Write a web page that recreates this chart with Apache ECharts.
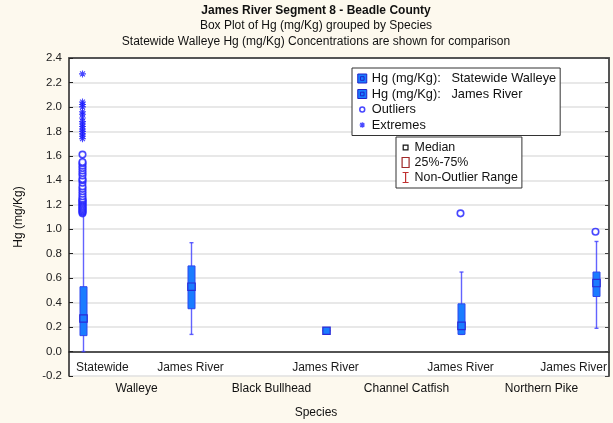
<!DOCTYPE html>
<html>
<head>
<meta charset="utf-8">
<script src="https://cdn.jsdelivr.net/npm/echarts@6/dist/echarts.min.js"></script>
<style>
  html, body { margin: 0; padding: 0; background: #fdf9ee; }
  #chart { width: 613px; height: 423px; }
</style>
</head>
<body>
<div id="chart"></div>
<script>
  'use strict'

  var species = ['Walleye', 'Black Bullhead', 'Channel Catfish', 'Northern Pike'];
  var yTicks = { min: -0.2, max: 2.4, step: 0.2 };

  // statewide walleye box: [min, q1, median, q3, max]
  var statewideBox = [0.00, 0.13, 0.27, 0.53, 1.12];
  // james river boxes, one per species
  var jamesBoxes = [
    [0.14, 0.35, 0.53, 0.70, 0.89],
    [0.165, 0.165, 0.17, 0.175, 0.175],
    [0.14, 0.14, 0.21, 0.39, 0.65],
    [0.19, 0.45, 0.56, 0.65, 0.90]
  ];
  var statewideOutliers = [1.13, 1.14, 1.15, 1.16, 1.17, 1.18, 1.19, 1.20, 1.21, 1.22,
    1.23, 1.24, 1.25, 1.27, 1.29, 1.31, 1.33, 1.35, 1.38, 1.40, 1.41, 1.44, 1.46,
    1.48, 1.50, 1.52, 1.54, 1.55, 1.61];
  var statewideExtremes = [1.74, 1.76, 1.78, 1.80, 1.82, 1.84, 1.86, 1.88, 1.91,
    1.94, 1.96, 2.00, 2.02, 2.04, 2.27];
  // [species index, value]
  var jamesOutliers = [[2, 1.13], [3, 0.98]];

  var nameState = 'Hg (mg/Kg):   Statewide Walleye';
  var nameJames = 'Hg (mg/Kg):   James River';
  var FONT = 'Liberation Sans';

  function slotX(idx, isState) { return idx + (isState ? 0.1 : 0.9); }

  var stateData = [[slotX(0, true)].concat(statewideBox)];
  var jamesData = jamesBoxes.map(function (b, i) { return [slotX(i, false)].concat(b); });
  var outlierData = statewideOutliers.map(function (v) { return [slotX(0, true), v]; })
    .concat(jamesOutliers.map(function (o) { return [slotX(o[0], false), o[1]]; }));
  var extremeData = statewideExtremes.map(function (v) { return [slotX(0, true), v]; });
  var subLabelData = [[slotX(0, true), 'Statewide']].concat(
    species.map(function (s, i) { return [slotX(i, false), 'James River']; }));

  function renderBox(params, api) {
    var x = api.value(0);
    var c = function (v) { return api.coord([x, v]); };
    var pMin = c(api.value(1)), pQ1 = c(api.value(2)), pMed = c(api.value(3));
    var pQ3 = c(api.value(4)), pMax = c(api.value(5));
    var cx = Math.round(pMin[0]) + 0.5;
    var bw = 3.5, mw = 3.7, cap = 2;
    var wStyle = { stroke: '#3c3cff', lineWidth: 1.4, opacity: 0.8 };
    return {
      type: 'group',
      children: [
        { type: 'line', shape: { x1: cx, y1: pMax[1], x2: cx, y2: pMin[1] }, style: wStyle },
        { type: 'line', shape: { x1: cx - cap, y1: pMax[1], x2: cx + cap, y2: pMax[1] }, style: wStyle },
        { type: 'line', shape: { x1: cx - cap, y1: pMin[1], x2: cx + cap, y2: pMin[1] }, style: wStyle },
        { type: 'rect', shape: { x: cx - bw, y: pQ3[1], width: bw * 2, height: Math.max(pQ1[1] - pQ3[1], 1) },
          style: { fill: '#1a7cff', stroke: '#2f47ee', lineWidth: 1 } },
        { type: 'rect', shape: { x: cx - mw, y: pMed[1] - mw, width: mw * 2, height: mw * 2 },
          style: { fill: '#1a7cff', stroke: '#2a2ad8', lineWidth: 1.2 } }
      ]
    };
  }

  var measureCtx = document.createElement('canvas').getContext('2d');
  measureCtx.font = '12px ' + FONT;

  function renderSubLabel(params, api) {
    var txt = subLabelData[params.dataIndex][1];
    var p = api.coord([api.value(0), yTicks.min]);
    var w = measureCtx.measureText(txt).width;
    var cs = params.coordSys;
    var x = Math.min(Math.max(p[0], cs.x + w / 2 + 7), cs.x + cs.width - w / 2 - 2);
    return {
      type: 'text',
      style: { text: txt, x: x, y: p[1] - 8, align: 'center', verticalAlign: 'middle',
        font: '12px ' + FONT, fill: '#1a1a1a' }
    };
  }

  var iconBox = 'path://M0,0H10V10H0Z M3,3H7V7H3Z';
  var iconStar = 'path://M0,4H8 M4,0V8 M1.2,1.2L6.8,6.8 M6.8,1.2L1.2,6.8';
  var iconCircle = 'path://M-1.5,-1.5 M1,4a3,3 0 1,0 6,0a3,3 0 1,0 -6,0 M9.5,9.5';
  var iconSmallStar = 'path://M-1,-1 M1,4H7 M4,1V7 M1.8,1.8L6.2,6.2 M6.2,1.8L1.8,6.2 M9,9';
  var iconMedian = 'path://M-2,-2 M0,0H6V6H0Z M8,8';
  var iconIqr = 'path://M0,0H7V10H0Z';
  var iconRange = 'path://M0,0H6 M3,0V10 M0,10H6';

  var chart = echarts.init(document.getElementById('chart'));

  var option = {
    backgroundColor: '#fdf9ee',
    animation: false,
    textStyle: { fontFamily: FONT },
    graphic: [
      { type: 'text', style: { text: 'James River Segment 8 - Beadle County', x: 316, y: 11,
          align: 'center', verticalAlign: 'middle', font: 'bold 12px ' + FONT, fill: '#111' } },
      { type: 'text', style: { text: 'Box Plot of Hg (mg/Kg) grouped by Species', x: 316, y: 26,
          align: 'center', verticalAlign: 'middle', font: '12px ' + FONT, fill: '#111' } },
      { type: 'text', style: { text: 'Statewide Walleye Hg (mg/Kg) Concentrations are shown for comparison', x: 316, y: 42,
          align: 'center', verticalAlign: 'middle', font: '12px ' + FONT, fill: '#111' } },
      { type: 'text', style: { text: 'Species', x: 316, y: 413,
          align: 'center', verticalAlign: 'middle', font: '12px ' + FONT, fill: '#111' } }
    ],
    grid: {
      left: 69, right: 4, top: 58, bottom: 47,
      show: true, backgroundColor: '#ffffff', borderWidth: 0
    },
    legend: [
      {
        orient: 'vertical', left: 352, top: 68,
        padding: [4, 4, 4, 5], itemWidth: 9, itemHeight: 9, itemGap: 2.5,
        backgroundColor: '#fff', borderColor: '#333', borderWidth: 1,
        selectedMode: false,
        textStyle: { fontFamily: FONT, fontSize: 12.8, color: '#111', lineHeight: 13 },
        data: [
          { name: nameState, icon: iconBox, itemStyle: { color: '#1a7cff', borderColor: '#2020c8', borderWidth: 1 } },
          { name: nameJames, icon: iconBox, itemStyle: { color: '#1a7cff', borderColor: '#2020c8', borderWidth: 1 } },
          { name: 'Outliers', icon: iconCircle, itemStyle: { color: '#fff', borderColor: '#1a1aff', borderWidth: 1.5 } },
          { name: 'Extremes', icon: iconSmallStar, itemStyle: { color: 'transparent', borderColor: '#1a1aff', borderWidth: 1.2 } }
        ]
      },
      {
        orient: 'vertical', left: 396, top: 137,
        padding: [4, 4, 4, 5], itemWidth: 8, itemHeight: 10, itemGap: 2,
        backgroundColor: '#fff', borderColor: '#333', borderWidth: 1,
        selectedMode: false,
        textStyle: { fontFamily: FONT, fontSize: 12.4, color: '#111', lineHeight: 13 },
        data: [
          { name: 'Median', icon: iconMedian, itemStyle: { color: '#fff', borderColor: '#111', borderWidth: 1.2 } },
          { name: '25%-75%', icon: iconIqr, itemStyle: { color: '#fff', borderColor: '#a02828', borderWidth: 1.2 } },
          { name: 'Non-Outlier Range', icon: iconRange, itemStyle: { color: 'transparent', borderColor: '#c03030', borderWidth: 1.2 } }
        ]
      }
    ],
    xAxis: [
      {
        type: 'category', data: species, position: 'bottom',
        axisLine: { lineStyle: { color: '#222', width: 1.5 } },
        axisTick: { inside: true, alignWithLabel: true, length: 4, lineStyle: { color: '#222' } },
        axisLabel: { fontFamily: FONT, fontSize: 12, color: '#111', margin: 7 },
        splitLine: { show: false }
      },
      {
        type: 'value', min: 0, max: 4, show: false
      },
      {
        type: 'category', data: species, position: 'top',
        axisLine: { lineStyle: { color: '#555', width: 2 } },
        axisTick: { inside: true, alignWithLabel: true, length: 4, lineStyle: { color: '#333' } },
        axisLabel: { show: false },
        splitLine: { show: false }
      }
    ],
    yAxis: [
      {
        type: 'value', min: yTicks.min, max: yTicks.max, interval: yTicks.step,
        name: 'Hg (mg/Kg)', nameLocation: 'middle', nameGap: 44,
        nameTextStyle: { fontFamily: FONT, fontSize: 12, color: '#111' },
        axisLine: { show: true, lineStyle: { color: '#222', width: 1.5 } },
        axisTick: { show: true, inside: true, length: 4, lineStyle: { color: '#222' } },
        axisLabel: { fontFamily: FONT, fontSize: 11.5, color: '#222', margin: 7,
          formatter: function (v) { return v.toFixed(1); } },
        splitLine: { lineStyle: { color: '#e0e0e0', width: 1.5 } }
      },
      {
        type: 'value', min: yTicks.min, max: yTicks.max, interval: yTicks.step, position: 'right',
        axisLine: { show: true, lineStyle: { color: '#555', width: 2 } },
        axisTick: { show: true, inside: true, length: 4, lineStyle: { color: '#444' } },
        axisLabel: { show: false },
        splitLine: { show: false }
      }
    ],
    series: [
      { name: nameState, type: 'custom', xAxisIndex: 1, yAxisIndex: 0,
        renderItem: renderBox, data: stateData, z: 3 },
      { name: nameJames, type: 'custom', xAxisIndex: 1, yAxisIndex: 0,
        renderItem: renderBox, data: jamesData, z: 3 },
      { name: 'Outliers', type: 'scatter', xAxisIndex: 1, yAxisIndex: 0,
        symbol: 'circle', symbolSize: 6.5, data: outlierData, z: 4,
        itemStyle: { color: '#fff', borderColor: '#1a1aff', borderWidth: 1.6 } },
      { name: 'Extremes', type: 'scatter', xAxisIndex: 1, yAxisIndex: 0,
        symbol: iconStar, symbolSize: 7, data: extremeData, z: 4,
        itemStyle: { color: 'transparent', borderColor: '#1a1aff', borderWidth: 1.1 } },
      { name: 'Median', type: 'custom', xAxisIndex: 1, data: [], renderItem: function () { return null; } },
      { name: '25%-75%', type: 'custom', xAxisIndex: 1, data: [], renderItem: function () { return null; } },
      { name: 'Non-Outlier Range', type: 'custom', xAxisIndex: 1, data: [], renderItem: function () { return null; } },
      { type: 'custom', xAxisIndex: 1, yAxisIndex: 0, data: subLabelData.map(function (d) { return [d[0]]; }),
        renderItem: renderSubLabel, z: 2, silent: true }
    ]
  };

  chart.setOption(option);
</script>
</body>
</html>
